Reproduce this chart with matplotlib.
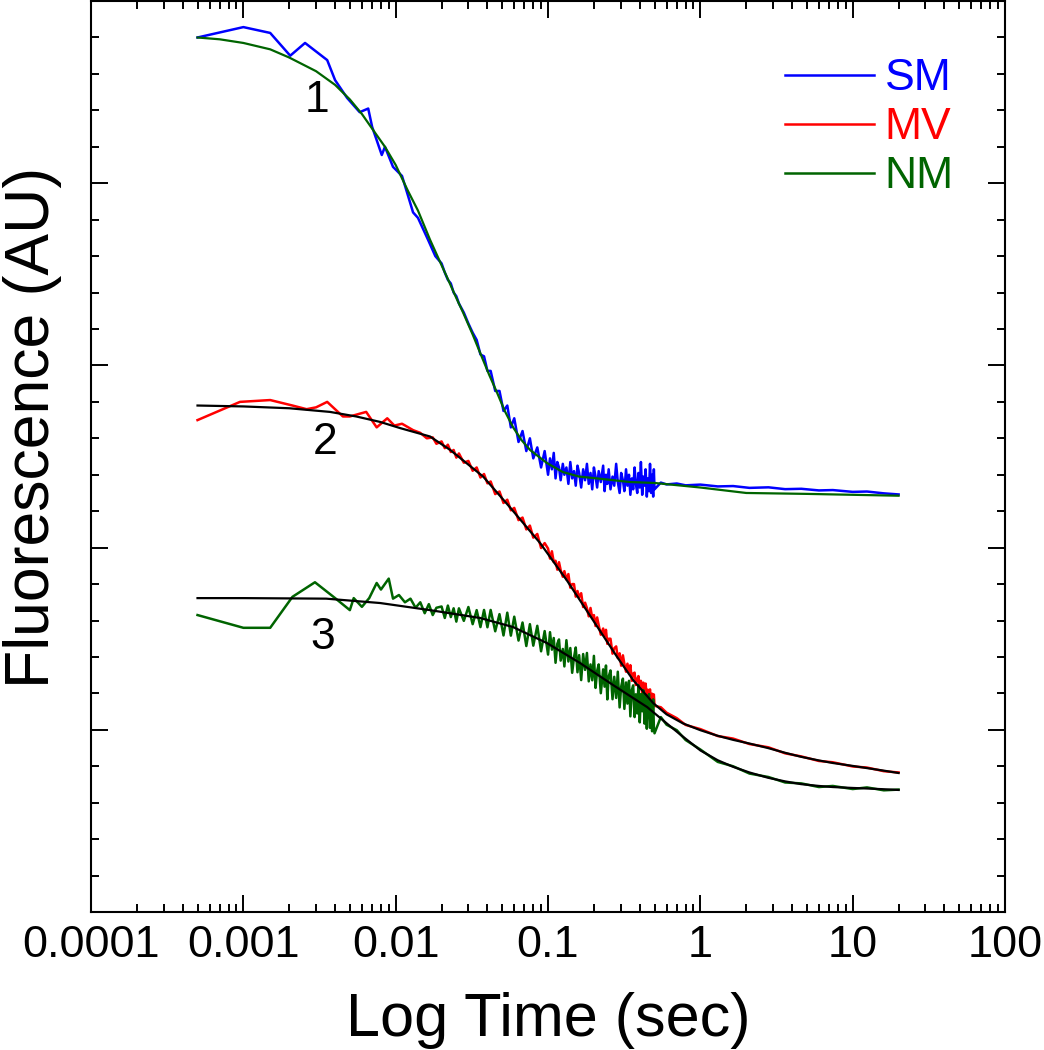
import matplotlib
matplotlib.use('Agg')
import matplotlib.pyplot as plt
from matplotlib.ticker import LogLocator, MultipleLocator, NullFormatter, FixedFormatter, FixedLocator

plt.rcParams['font.family'] = ['Liberation Sans', 'DejaVu Sans']

BLUE = '#0000ff'
RED = '#ff0000'
GREEN = '#006400'

# shared sampling times (sec)
T_DENSE_A = [0.020, 0.021, 0.022, 0.023, 0.024, 0.025, 0.026, 0.028, 0.030, 0.032,
             0.034, 0.036, 0.038, 0.040, 0.042, 0.045, 0.048, 0.051, 0.054, 0.057,
             0.060, 0.064, 0.068, 0.072, 0.076, 0.080, 0.085, 0.090, 0.095]
T_DENSE_B = [0.100, 0.103, 0.106, 0.109, 0.112, 0.115, 0.118, 0.121, 0.125, 0.128,
             0.132, 0.136, 0.140, 0.144, 0.148, 0.152, 0.156, 0.160, 0.165, 0.170,
             0.175, 0.180, 0.185, 0.190, 0.195, 0.200, 0.205, 0.210, 0.215, 0.222,
             0.230, 0.235, 0.240, 0.245, 0.250, 0.257, 0.265, 0.272, 0.280, 0.287,
             0.295, 0.302, 0.310, 0.317, 0.325, 0.332, 0.340, 0.347, 0.355, 0.362,
             0.370, 0.377, 0.385, 0.392, 0.400, 0.407, 0.415, 0.422, 0.430, 0.437,
             0.445, 0.452, 0.460, 0.467, 0.475, 0.482, 0.490, 0.495, 0.500]
T_LATE = [0.55, 0.6, 0.7, 0.8, 1.0, 1.3, 1.64, 2.1, 2.8, 3.6, 4.6, 6.0, 7.4, 10, 12.4, 16, 20]

# SM (curve 1)
T_SM_EARLY = [5e-4, 1e-3, 1.5e-3, 2.03e-3, 2.54e-3, 3.55e-3, 4.0e-3, 4.8e-3, 5.8e-3, 6.6e-3,
              7.0e-3, 8.1e-3, 8.5e-3, 9.6e-3, 0.011, 0.013, 0.014, 0.0163, 0.0182]
SM_EARLY = [4.80, 4.857, 4.825, 4.70, 4.77, 4.676, 4.566, 4.468, 4.39, 4.41,
            4.31, 4.155, 4.20, 4.09, 4.04, 3.84, 3.81, 3.69, 3.60]
SM_A = [3.56, 3.51, 3.47, 3.45, 3.40, 3.38, 3.34, 3.29, 3.23, 3.18,
        3.14, 3.06, 3.05, 2.97, 2.97, 2.86, 2.86, 2.75, 2.78, 2.66,
        2.71, 2.58, 2.64, 2.53, 2.60, 2.49, 2.55, 2.44, 2.53]
SM_B = [2.40, 2.49, 2.43, 2.52, 2.38, 2.47, 2.44, 2.37, 2.46, 2.40,
        2.44, 2.35, 2.47, 2.38, 2.42, 2.34, 2.45, 2.41, 2.33, 2.43,
        2.37, 2.46, 2.35, 2.41, 2.32, 2.44, 2.39, 2.33, 2.42, 2.36,
        2.45, 2.31, 2.40, 2.35, 2.43, 2.32, 2.39, 2.34, 2.46, 2.36,
        2.30, 2.41, 2.37, 2.31, 2.43, 2.34, 2.40, 2.29, 2.38, 2.32,
        2.44, 2.35, 2.30, 2.41, 2.33, 2.47, 2.29, 2.39, 2.34, 2.43,
        2.28, 2.38, 2.31, 2.46, 2.30, 2.40, 2.28, 2.43, 2.32]
SM_LATE = [2.357, 2.347, 2.352, 2.342, 2.346, 2.336, 2.338, 2.328, 2.331, 2.321,
           2.323, 2.314, 2.316, 2.306, 2.308, 2.298, 2.292]
T_FIT1 = [5e-4, 7e-4, 1e-3, 1.5e-3, 2e-3, 3e-3, 4e-3, 5e-3, 6e-3, 7e-3, 8.5e-3, 0.01,
          0.012, 0.014, 0.0168, 0.02, 0.0217, 0.025, 0.0277, 0.032, 0.0358, 0.041,
          0.0463, 0.052, 0.059, 0.067, 0.0762, 0.0985, 0.125, 0.16, 0.21, 0.346,
          0.5, 1, 2, 5, 10, 20]
FIT1 = [4.80, 4.79, 4.77, 4.735, 4.69, 4.615, 4.54, 4.46, 4.38, 4.30, 4.20, 4.10,
        3.96, 3.85, 3.69, 3.55, 3.485, 3.37, 3.29, 3.17, 3.07, 2.95,
        2.85, 2.75, 2.66, 2.59, 2.536, 2.464, 2.415, 2.39, 2.38, 2.36,
        2.355, 2.33, 2.30, 2.295, 2.29, 2.285]

# MV (curve 2)
T_MV_EARLY = [5e-4, 9.5e-4, 1.5e-3, 2.1e-3, 2.6e-3, 3.0e-3, 3.55e-3, 4.5e-3, 5.0e-3, 6.4e-3,
              7.5e-3, 8.8e-3, 9.8e-3, 0.011, 0.013, 0.0145, 0.016, 0.0175, 0.0185]
MV_EARLY = [2.70, 2.80, 2.81, 2.78, 2.76, 2.77, 2.80, 2.72, 2.72, 2.745,
            2.66, 2.71, 2.67, 2.68, 2.645, 2.63, 2.60, 2.605, 2.57]
MV_A = [2.583, 2.546, 2.565, 2.525, 2.536, 2.494, 2.517, 2.466, 2.476, 2.422,
        2.44, 2.385, 2.404, 2.353, 2.363, 2.294, 2.308, 2.245, 2.263, 2.205,
        2.218, 2.151, 2.165, 2.10, 2.121, 2.055, 2.075, 1.998, 2.025]
MV_B = [1.995, 1.94, 1.98, 1.921, 1.928, 1.879, 1.92, 1.877, 1.84, 1.871,
        1.825, 1.855, 1.78, 1.80, 1.80, 1.731, 1.762, 1.728, 1.75, 1.674,
        1.698, 1.668, 1.623, 1.669, 1.615, 1.63, 1.57, 1.617, 1.575, 1.522,
        1.556, 1.515, 1.549, 1.472, 1.50, 1.50, 1.418, 1.448, 1.458, 1.394,
        1.42, 1.352, 1.409, 1.362, 1.319, 1.363, 1.316, 1.355, 1.269, 1.309,
        1.314, 1.246, 1.278, 1.295, 1.231, 1.269, 1.196, 1.259, 1.222, 1.254,
        1.177, 1.22, 1.188, 1.222, 1.145, 1.198, 1.172, 1.194, 1.132]
MV_LATE = [1.124, 1.094, 1.064, 1.027, 1.004, 0.966, 0.952, 0.922, 0.904, 0.871,
           0.854, 0.829, 0.822, 0.799, 0.793, 0.773, 0.766]
T_FIT2 = [5e-4, 1e-3, 2e-3, 3.7e-3, 5.5e-3, 7.9e-3, 0.0107, 0.0168, 0.0228, 0.0375,
          0.0564, 0.0887, 0.133, 0.198, 0.284, 0.362, 0.49, 0.6, 0.77, 1.0,
          1.29, 1.64, 2.12, 2.78, 3.6, 4.58, 6.0, 7.4, 10, 12.4, 16, 20]
FIT2 = [2.78, 2.775, 2.765, 2.745, 2.72, 2.69, 2.656, 2.61, 2.536, 2.39,
        2.22, 2.025, 1.82, 1.60, 1.40, 1.273, 1.147, 1.085, 1.035, 0.998,
        0.968, 0.945, 0.924, 0.90, 0.874, 0.852, 0.832, 0.818, 0.802, 0.79, 0.776, 0.763]

# NM (curve 3)
T_NM_EARLY = [5e-4, 1e-3, 1.5e-3, 2.1e-3, 2.95e-3, 4e-3, 5e-3, 5.3e-3, 6e-3, 6.7e-3,
              7.5e-3, 8.0e-3, 9.0e-3, 9.6e-3, 0.0105, 0.0115, 0.0125, 0.0135, 0.0145,
              0.0155, 0.0165, 0.0175, 0.0185]
NM_EARLY = [1.63, 1.56, 1.56, 1.73, 1.81, 1.723, 1.657, 1.723, 1.675, 1.723,
            1.806, 1.77, 1.83, 1.72, 1.74, 1.70, 1.72, 1.67, 1.70,
            1.64, 1.69, 1.63, 1.67]
NM_A = [1.677, 1.614, 1.682, 1.619, 1.667, 1.594, 1.667, 1.598, 1.674, 1.58,
        1.657, 1.564, 1.658, 1.563, 1.658, 1.541, 1.635, 1.518, 1.643, 1.517,
        1.621, 1.49, 1.589, 1.46, 1.58, 1.462, 1.571, 1.431, 1.542]
NM_B = [1.413, 1.536, 1.44, 1.504, 1.368, 1.472, 1.496, 1.38, 1.444, 1.348,
        1.492, 1.375, 1.449, 1.313, 1.397, 1.452, 1.316, 1.41, 1.273, 1.416,
        1.329, 1.422, 1.266, 1.359, 1.272, 1.406, 1.23, 1.324, 1.359, 1.201,
        1.332, 1.237, 1.353, 1.167, 1.292, 1.326, 1.168, 1.291, 1.175, 1.319,
        1.123, 1.237, 1.281, 1.115, 1.26, 1.144, 1.269, 1.074, 1.219, 1.244,
        1.07, 1.195, 1.09, 1.245, 1.041, 1.196, 1.102, 1.218, 1.034, 1.19,
        1.006, 1.151, 1.196, 1.011, 1.156, 0.992, 1.167, 1.014, 0.981]
NM_LATE = [1.07, 1.028, 0.998, 0.944, 0.892, 0.824, 0.80, 0.76, 0.741, 0.711,
           0.706, 0.686, 0.692, 0.675, 0.684, 0.668, 0.672]
T_FIT3 = [5e-4, 1e-3, 3.5e-3, 7.9e-3, 0.0168, 0.0358, 0.059, 0.0985, 0.162, 0.267,
          0.447, 0.6, 0.736, 1.0, 1.3, 1.64, 2.1, 2.78, 3.6, 4.58, 6.0, 7.4, 10, 12.4, 16, 20]
FIT3 = [1.723, 1.723, 1.72, 1.696, 1.657, 1.614, 1.564, 1.476, 1.367, 1.246,
        1.125, 1.036, 0.975, 0.887, 0.833, 0.797, 0.766, 0.737, 0.717, 0.702,
        0.692, 0.686, 0.681, 0.678, 0.674, 0.67]

X_TICKS = [1e-4, 1e-3, 1e-2, 1e-1, 1, 10, 100]
X_LABELS = ['0.0001', '0.001', '0.01', '0.1', '1', '10', '100']
CURVE_TAGS = [('1', 3.05e-3, 4.456), ('2', 3.44e-3, 2.577), ('3', 3.33e-3, 1.505)]


fig = plt.figure(figsize=(10.44, 10.5), dpi=100)
ax = fig.add_axes([0.0872, 0.1314, 0.8755, 0.8676])

sm, = ax.plot(T_SM_EARLY + T_DENSE_A + T_DENSE_B + T_LATE, SM_EARLY + SM_A + SM_B + SM_LATE,
              color=BLUE, lw=1.8, label='SM')
mv, = ax.plot(T_MV_EARLY + T_DENSE_A + T_DENSE_B + T_LATE, MV_EARLY + MV_A + MV_B + MV_LATE,
              color=RED, lw=1.8, label='MV')
nm, = ax.plot(T_NM_EARLY + T_DENSE_A + T_DENSE_B + T_LATE, NM_EARLY + NM_A + NM_B + NM_LATE,
              color=GREEN, lw=1.8, label='NM')

# fitted curves on top
ax.plot(T_FIT1, FIT1, color=GREEN, lw=1.6)
ax.plot(T_FIT2, FIT2, color='black', lw=1.6)
ax.plot(T_FIT3, FIT3, color='black', lw=1.6)

for tag, tx, ty in CURVE_TAGS:
    ax.text(tx, ty, tag, fontsize=32, ha='center', va='center')

ax.set_xscale('log')
ax.set_xlim(1e-4, 100)
ax.set_ylim(0, 5)

ax.xaxis.set_major_locator(FixedLocator(X_TICKS))
ax.xaxis.set_major_formatter(FixedFormatter(X_LABELS))
ax.xaxis.set_minor_locator(LogLocator(base=10, subs=range(2, 10), numticks=20))
ax.xaxis.set_minor_formatter(NullFormatter())
ax.yaxis.set_major_locator(MultipleLocator(1))
ax.yaxis.set_minor_locator(MultipleLocator(0.2))

ax.tick_params(which='both', direction='in', top=True, right=True, width=1.4)
ax.tick_params(which='major', length=12.5, labelsize=32.5, pad=9)
ax.tick_params(which='minor', length=6)
ax.tick_params(axis='y', which='both', labelleft=False)
for s in ax.spines.values():
    s.set_linewidth(1.5)

ax.set_xlabel('Log Time (sec)', fontsize=44, labelpad=19)
ax.set_ylabel('Fluorescence (AU)', fontsize=45)
ax.yaxis.set_label_coords(-0.032, 0.532)

ax.legend(handles=[sm, mv, nm], loc='upper left', bbox_to_anchor=(0.759, 0.937),
          frameon=False, fontsize=32, labelcolor='linecolor', handlelength=2.0,
          handletextpad=0.25, labelspacing=0.18, borderpad=0, borderaxespad=0)

fig.savefig('out.png', dpi=100)
